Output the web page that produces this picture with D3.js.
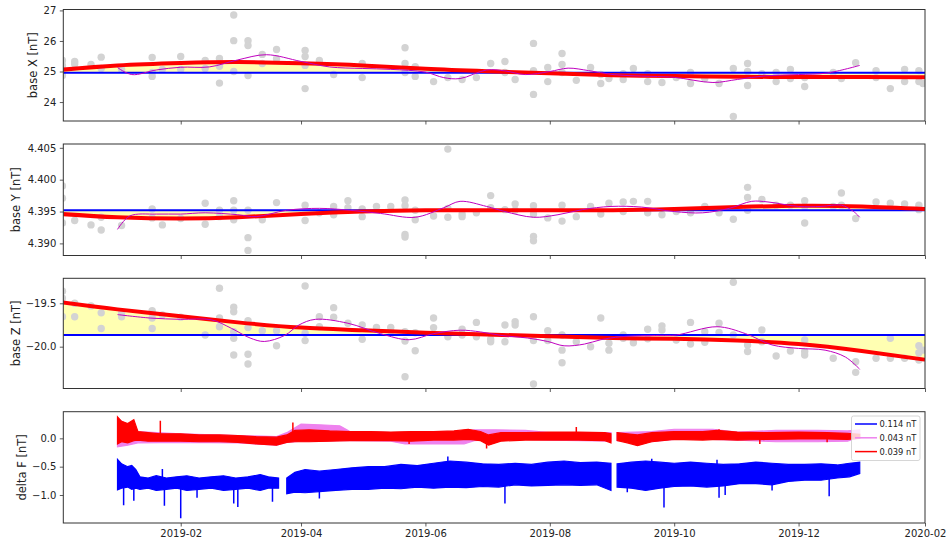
<!DOCTYPE html>
<html>
<head>
<meta charset="utf-8">
<script src="https://cdn.jsdelivr.net/npm/d3@7"></script>
<style>
  body { margin: 0; background: #fff; }
  svg { display: block; font-family: "DejaVu Sans", sans-serif; }
</style>
</head>
<body>
<svg id="chart" width="947" height="545"></svg>
<script>
// ---- data ----
const tickDates = ['2019-02-01', '2019-04-01', '2019-06-01', '2019-08-01',
  '2019-10-01', '2019-12-01', '2020-02-01'];

const baseXBaseline = 24.96;
const baseYBaseline = 4.3952;
const baseZBaseline = -19.866;

const baseXObs = [
  ['2018-12-05', 25.36], ['2018-12-05', 25.2], ['2018-12-05', 24.87],
  ['2018-12-11', 25.33], ['2018-12-11', 25.25], ['2018-12-19', 25.23],
  ['2018-12-24', 25.47], ['2018-12-24', 25.1], ['2019-01-03', 25.07],
  ['2019-01-18', 25.46], ['2019-01-18', 24.97], ['2019-01-18', 24.84],
  ['2019-01-23', 25.07], ['2019-02-01', 25.49], ['2019-02-01', 25.07],
  ['2019-02-13', 25.36], ['2019-02-13', 25.1],
  ['2019-02-20', 25.43], ['2019-02-20', 25.17], ['2019-02-20', 24.62],
  ['2019-02-27', 26.85], ['2019-02-27', 26.01], ['2019-02-27', 25.0],
  ['2019-03-06', 26.01], ['2019-03-06', 25.85], ['2019-03-06', 24.87],
  ['2019-03-13', 25.56], ['2019-03-13', 25.26],
  ['2019-03-20', 25.72], ['2019-03-20', 25.42],
  ['2019-04-03', 25.69], ['2019-04-03', 25.49], ['2019-04-03', 25.2], ['2019-04-03', 24.44],
  ['2019-04-10', 25.36], ['2019-04-17', 24.9],
  ['2019-05-01', 25.26], ['2019-05-01', 24.8],
  ['2019-05-22', 25.78], ['2019-05-22', 25.26], ['2019-05-22', 24.97],
  ['2019-05-27', 25.16], ['2019-05-27', 24.84],
  ['2019-06-05', 24.67], ['2019-06-12', 24.8], ['2019-06-19', 24.74], ['2019-06-26', 24.8],
  ['2019-07-03', 25.26], ['2019-07-10', 25.33], ['2019-07-10', 24.97], ['2019-07-15', 24.74],
  ['2019-07-24', 25.92], ['2019-07-24', 25.03], ['2019-07-24', 24.25],
  ['2019-07-31', 25.13], ['2019-07-31', 24.67],
  ['2019-08-07', 25.59], ['2019-08-07', 25.23], ['2019-08-07', 24.97],
  ['2019-08-14', 24.71], ['2019-08-21', 25.13],
  ['2019-08-26', 24.9], ['2019-08-26', 24.61], ['2019-08-30', 24.77],
  ['2019-09-06', 24.93], ['2019-09-06', 24.74], ['2019-09-11', 25.1],
  ['2019-09-18', 24.93], ['2019-09-18', 24.67], ['2019-09-25', 24.64],
  ['2019-10-02', 24.8], ['2019-10-09', 24.97], ['2019-10-09', 24.61],
  ['2019-10-16', 24.77], ['2019-10-23', 24.61],
  ['2019-10-30', 25.1], ['2019-10-30', 23.53],
  ['2019-11-06', 25.26], ['2019-11-06', 25.0], ['2019-11-06', 24.54],
  ['2019-11-13', 24.93], ['2019-11-20', 24.97], ['2019-11-20', 24.67],
  ['2019-11-27', 25.07], ['2019-11-27', 24.77],
  ['2019-12-04', 24.8], ['2019-12-04', 24.51],
  ['2019-12-18', 24.97], ['2019-12-22', 24.77], ['2019-12-29', 25.29],
  ['2020-01-08', 25.03], ['2020-01-08', 24.8], ['2020-01-15', 24.44],
  ['2020-01-22', 25.07], ['2020-01-22', 24.67],
  ['2020-01-29', 25.03], ['2020-01-29', 24.67], ['2020-01-31', 24.61]
];

const baseXFit = [
  ['2018-12-05', 25.06], ['2019-01-01', 25.2], ['2019-02-01', 25.28],
  ['2019-03-01', 25.31], ['2019-04-01', 25.27], ['2019-05-01', 25.2],
  ['2019-06-01', 25.09], ['2019-07-01', 25.01], ['2019-08-01', 24.94],
  ['2019-09-01', 24.88], ['2019-10-01', 24.85], ['2019-11-01', 24.83],
  ['2019-12-01', 24.82], ['2020-01-01', 24.82], ['2020-02-01', 24.81]
];

const baseXSpline = [
  ['2019-01-01', 25.13], ['2019-01-08', 24.9], ['2019-01-20', 25.05],
  ['2019-02-01', 25.14], ['2019-02-15', 25.15], ['2019-03-01', 25.38],
  ['2019-03-15', 25.55], ['2019-04-01', 25.33], ['2019-04-15', 25.15],
  ['2019-05-01', 25.1], ['2019-05-15', 25.07], ['2019-06-01', 24.98],
  ['2019-06-10', 24.8], ['2019-06-18', 24.77], ['2019-07-01', 25.05],
  ['2019-07-10', 25.02], ['2019-07-20', 24.9], ['2019-08-01', 25.0],
  ['2019-08-10', 25.11], ['2019-08-20', 25.03], ['2019-09-01', 24.9],
  ['2019-09-15', 24.85], ['2019-10-01', 24.81], ['2019-10-20', 24.64],
  ['2019-11-01', 24.74], ['2019-11-15', 24.86], ['2019-12-01', 24.9],
  ['2019-12-15', 24.95], ['2019-12-31', 25.2]
];

const baseYObs = [
  ['2018-12-05', 4.399], ['2018-12-05', 4.3971], ['2018-12-05', 4.3932],
  ['2018-12-11', 4.3936], ['2018-12-19', 4.3929],
  ['2018-12-24', 4.3941], ['2018-12-24', 4.3921], ['2019-01-03', 4.3928],
  ['2019-01-18', 4.3954], ['2019-01-18', 4.394], ['2019-01-23', 4.3929],
  ['2019-02-01', 4.3939], ['2019-02-13', 4.3963], ['2019-02-13', 4.393],
  ['2019-02-20', 4.3952], ['2019-02-20', 4.3942],
  ['2019-02-27', 4.3967], ['2019-02-27', 4.3952], ['2019-02-27', 4.3937],
  ['2019-03-06', 4.3952], ['2019-03-06', 4.3909], ['2019-03-06', 4.3889],
  ['2019-03-13', 4.3937], ['2019-03-20', 4.3964],
  ['2019-04-03', 4.396], ['2019-04-03', 4.3936], ['2019-04-10', 4.3948],
  ['2019-04-17', 4.3958], ['2019-04-17', 4.3945],
  ['2019-04-24', 4.3967], ['2019-04-24', 4.3956],
  ['2019-05-01', 4.3954], ['2019-05-01', 4.3942],
  ['2019-05-08', 4.3958], ['2019-05-15', 4.3958],
  ['2019-05-22', 4.3968], ['2019-05-22', 4.3959], ['2019-05-22', 4.3914], ['2019-05-22', 4.391],
  ['2019-05-27', 4.3952], ['2019-05-27', 4.3937], ['2019-06-05', 4.3943],
  ['2019-06-12', 4.4048], ['2019-06-12', 4.3955], ['2019-06-12', 4.3941],
  ['2019-06-19', 4.3946], ['2019-06-19', 4.3942], ['2019-06-26', 4.3948],
  ['2019-07-03', 4.3975], ['2019-07-03', 4.3956], ['2019-07-10', 4.3953],
  ['2019-07-15', 4.3962], ['2019-07-15', 4.3952],
  ['2019-07-24', 4.3959], ['2019-07-24', 4.3946], ['2019-07-24', 4.3911], ['2019-07-24', 4.3904],
  ['2019-07-31', 4.394], ['2019-08-07', 4.396], ['2019-08-07', 4.3935],
  ['2019-08-14', 4.3942], ['2019-08-21', 4.3958], ['2019-08-26', 4.3946],
  ['2019-08-30', 4.3963], ['2019-09-06', 4.3965], ['2019-09-06', 4.395],
  ['2019-09-11', 4.3966], ['2019-09-18', 4.3966], ['2019-09-18', 4.3948],
  ['2019-09-25', 4.3945], ['2019-10-02', 4.395], ['2019-10-09', 4.3948],
  ['2019-10-16', 4.3958], ['2019-10-23', 4.3948], ['2019-10-30', 4.3938],
  ['2019-11-06', 4.3988], ['2019-11-06', 4.3972], ['2019-11-06', 4.3952],
  ['2019-11-13', 4.3969], ['2019-11-20', 4.396], ['2019-11-27', 4.396],
  ['2019-12-04', 4.3967], ['2019-12-04', 4.3958], ['2019-12-04', 4.3932],
  ['2019-12-18', 4.3958], ['2019-12-22', 4.3979], ['2019-12-22', 4.396],
  ['2019-12-29', 4.3939], ['2020-01-08', 4.3965], ['2020-01-15', 4.3963],
  ['2020-01-22', 4.3962], ['2020-01-29', 4.396], ['2020-01-29', 4.3953]
];

const baseYFit = [
  ['2018-12-05', 4.3946], ['2019-01-01', 4.3941], ['2019-02-01', 4.3939],
  ['2019-03-01', 4.3941], ['2019-04-01', 4.3946], ['2019-05-01', 4.395],
  ['2019-06-01', 4.3952], ['2019-07-01', 4.3952], ['2019-08-01', 4.3952],
  ['2019-09-01', 4.3952], ['2019-10-01', 4.3954], ['2019-11-01', 4.3957],
  ['2019-12-01', 4.3959], ['2020-01-01', 4.3958], ['2020-02-01', 4.3954]
];

const baseYSpline = [
  ['2019-01-01', 4.3922], ['2019-01-07', 4.3943], ['2019-01-20', 4.3946],
  ['2019-02-01', 4.3946], ['2019-02-13', 4.3948], ['2019-03-01', 4.3945],
  ['2019-03-10', 4.3942], ['2019-03-25', 4.3952], ['2019-04-10', 4.3955],
  ['2019-04-25', 4.3952], ['2019-05-10', 4.3947], ['2019-05-27', 4.3941],
  ['2019-06-10', 4.3956], ['2019-06-18', 4.3966], ['2019-07-01', 4.3958],
  ['2019-07-10', 4.395], ['2019-07-24', 4.3941], ['2019-08-05', 4.3945],
  ['2019-08-17', 4.3953], ['2019-08-31', 4.3958], ['2019-09-15', 4.3957],
  ['2019-10-01', 4.395], ['2019-10-15', 4.3948], ['2019-10-28', 4.3955],
  ['2019-11-08', 4.3966], ['2019-11-16', 4.3965], ['2019-12-01', 4.3958],
  ['2019-12-12', 4.3958], ['2019-12-22', 4.396], ['2019-12-28', 4.395],
  ['2019-12-31', 4.3941]
];

const baseZObs = [
  ['2018-12-05', -19.36], ['2018-12-05', -19.44], ['2018-12-05', -19.655],
  ['2018-12-11', -19.5], ['2018-12-11', -19.655], ['2018-12-19', -19.53],
  ['2018-12-24', -19.61], ['2018-12-24', -19.79],
  ['2019-01-03', -19.61], ['2019-01-03', -19.655],
  ['2019-01-18', -19.585], ['2019-01-18', -19.615], ['2019-01-18', -19.67], ['2019-01-18', -19.79],
  ['2019-01-23', -19.635], ['2019-02-01', -19.66], ['2019-02-13', -19.866],
  ['2019-02-20', -19.327], ['2019-02-20', -19.67], ['2019-02-20', -19.77],
  ['2019-02-27', -19.546], ['2019-02-27', -19.597], ['2019-02-27', -19.827],
  ['2019-02-27', -19.904], ['2019-02-27', -20.096],
  ['2019-03-06', -19.7], ['2019-03-06', -19.78], ['2019-03-06', -20.088], ['2019-03-06', -20.2],
  ['2019-03-13', -19.816], ['2019-03-20', -19.816], ['2019-03-20', -19.99],
  ['2019-04-03', -19.3], ['2019-04-03', -19.846], ['2019-04-03', -19.93],
  ['2019-04-10', -19.655], ['2019-04-10', -19.77],
  ['2019-04-17', -19.55], ['2019-04-17', -19.66], ['2019-04-24', -19.73],
  ['2019-05-01', -19.75], ['2019-05-01', -19.915], ['2019-05-08', -19.777],
  ['2019-05-15', -19.777], ['2019-05-15', -19.82],
  ['2019-05-22', -19.827], ['2019-05-22', -19.935], ['2019-05-22', -20.347],
  ['2019-05-27', -19.84], ['2019-05-27', -20.047],
  ['2019-06-05', -19.67], ['2019-06-05', -19.78], ['2019-06-12', -19.885],
  ['2019-06-19', -19.8], ['2019-06-19', -19.866],
  ['2019-06-26', -19.72], ['2019-06-26', -19.885],
  ['2019-07-03', -19.915], ['2019-07-03', -19.943],
  ['2019-07-10', -19.75], ['2019-07-10', -19.943],
  ['2019-07-15', -19.712], ['2019-07-15', -19.75],
  ['2019-07-24', -19.655], ['2019-07-24', -19.93], ['2019-07-24', -20.43],
  ['2019-07-31', -19.816], ['2019-07-31', -19.93],
  ['2019-08-07', -19.866], ['2019-08-07', -20.04], ['2019-08-07', -20.185],
  ['2019-08-14', -19.943], ['2019-08-21', -20.0], ['2019-08-26', -19.67],
  ['2019-08-30', -19.96], ['2019-08-30', -20.04],
  ['2019-09-06', -19.866], ['2019-09-06', -19.904], ['2019-09-11', -19.955],
  ['2019-09-18', -19.8], ['2019-09-18', -19.91],
  ['2019-09-25', -19.76], ['2019-09-25', -19.808], ['2019-10-02', -19.923],
  ['2019-10-09', -19.72], ['2019-10-09', -19.97],
  ['2019-10-16', -19.827], ['2019-10-16', -19.95],
  ['2019-10-23', -19.73], ['2019-10-23', -19.835],
  ['2019-10-30', -19.258], ['2019-10-30', -19.866],
  ['2019-11-06', -19.98], ['2019-11-06', -20.056],
  ['2019-11-13', -19.808], ['2019-11-13', -19.943],
  ['2019-11-20', -20.108], ['2019-11-27', -20.05],
  ['2019-12-04', -19.923], ['2019-12-04', -20.056], ['2019-12-04', -20.096],
  ['2019-12-18', -20.134], ['2019-12-29', -20.173], ['2019-12-29', -20.296],
  ['2020-01-08', -20.134], ['2020-01-15', -19.904], ['2020-01-15', -20.134],
  ['2020-01-22', -20.134],
  ['2020-01-29', -19.99], ['2020-01-29', -20.07], ['2020-01-29', -20.154],
  ['2020-01-31', -20.04]
];

const baseZFit = [
  ['2018-12-05', -19.49], ['2019-01-01', -19.57], ['2019-02-01', -19.65],
  ['2019-03-01', -19.72], ['2019-04-01', -19.78], ['2019-05-01', -19.81],
  ['2019-06-01', -19.84], ['2019-07-01', -19.86], ['2019-08-01', -19.88],
  ['2019-09-01', -19.9], ['2019-10-01', -19.91], ['2019-11-01', -19.93],
  ['2019-12-01', -19.97], ['2020-01-01', -20.05], ['2020-02-01', -20.15]
];

const baseZSpline = [
  ['2019-01-01', -19.63], ['2019-01-17', -19.67], ['2019-02-01', -19.685],
  ['2019-02-16', -19.69], ['2019-02-26', -19.79], ['2019-03-07', -19.9],
  ['2019-03-14', -19.94], ['2019-03-24', -19.87], ['2019-03-31', -19.75],
  ['2019-04-08', -19.685], ['2019-04-24', -19.73], ['2019-05-10', -19.85],
  ['2019-05-24', -19.92], ['2019-06-05', -19.85], ['2019-06-18', -19.81],
  ['2019-06-28', -19.83], ['2019-07-08', -19.87], ['2019-07-21', -19.9],
  ['2019-07-31', -19.94], ['2019-08-08', -19.99], ['2019-08-18', -19.97],
  ['2019-08-26', -19.92], ['2019-09-05', -19.885], ['2019-09-24', -19.87],
  ['2019-10-02', -19.866], ['2019-10-22', -19.77], ['2019-11-05', -19.85],
  ['2019-11-18', -19.98], ['2019-12-01', -20.02], ['2019-12-14', -20.04],
  ['2019-12-24', -20.12], ['2019-12-31', -20.26]
];

// delta F: [date, low, high] of the dense minute series, null = data gap
const deltaFBlue = [
  ['2019-01-01', -0.91, -0.37], ['2019-01-03', -0.88, -0.45], ['2019-01-06', -0.86, -0.5],
  ['2019-01-08', -0.9, -0.48], ['2019-01-10', -0.88, -0.55], ['2019-01-12', -0.9, -0.68],
  ['2019-01-16', -0.88, -0.7], ['2019-01-20', -0.92, -0.66], ['2019-01-25', -0.9, -0.7],
  ['2019-01-30', -0.88, -0.68], ['2019-02-04', -0.92, -0.66], ['2019-02-10', -0.9, -0.7],
  ['2019-02-16', -0.88, -0.68], ['2019-02-22', -0.92, -0.66], ['2019-02-28', -0.9, -0.7],
  ['2019-03-06', -0.88, -0.68], ['2019-03-12', -0.92, -0.64], ['2019-03-16', -0.88, -0.68],
  ['2019-03-21', -0.88, -0.7], ['2019-03-22', null, null],
  ['2019-03-25', -0.98, -0.7], ['2019-03-29', -0.95, -0.6], ['2019-04-03', -0.96, -0.55],
  ['2019-04-10', -0.94, -0.58], ['2019-04-18', -0.92, -0.55], ['2019-04-26', -0.9, -0.52],
  ['2019-05-04', -0.9, -0.5], ['2019-05-12', -0.88, -0.5], ['2019-05-20', -0.89, -0.46],
  ['2019-05-28', -0.86, -0.48], ['2019-06-05', -0.88, -0.44], ['2019-06-13', -0.86, -0.4],
  ['2019-06-21', -0.87, -0.42], ['2019-06-29', -0.85, -0.45], ['2019-07-07', -0.86, -0.46],
  ['2019-07-15', -0.82, -0.44], ['2019-07-23', -0.84, -0.46], ['2019-07-31', -0.83, -0.42],
  ['2019-08-08', -0.82, -0.4], ['2019-08-16', -0.83, -0.43], ['2019-08-24', -0.82, -0.42],
  ['2019-08-31', -0.92, -0.44], ['2019-09-01', null, null],
  ['2019-09-03', -0.86, -0.45], ['2019-09-10', -0.88, -0.42], ['2019-09-17', -0.92, -0.4],
  ['2019-09-24', -0.88, -0.42], ['2019-10-01', -0.85, -0.44], ['2019-10-09', -0.84, -0.42],
  ['2019-10-17', -0.86, -0.44], ['2019-10-25', -0.84, -0.46], ['2019-11-02', -0.8, -0.45],
  ['2019-11-10', -0.8, -0.42], ['2019-11-18', -0.82, -0.44], ['2019-11-26', -0.76, -0.46],
  ['2019-12-04', -0.74, -0.46], ['2019-12-12', -0.74, -0.45], ['2019-12-20', -0.7, -0.47],
  ['2019-12-26', -0.68, -0.44], ['2019-12-31', -0.62, -0.42]
];

const deltaFViolet = [
  ['2019-01-01', -0.15, 0.35], ['2019-01-06', -0.12, 0.24], ['2019-01-11', -0.08, 0.12],
  ['2019-02-01', -0.07, 0.08], ['2019-03-01', -0.08, 0.05], ['2019-03-20', -0.12, 0.03],
  ['2019-03-25', -0.07, 0.1], ['2019-04-01', -0.05, 0.25], ['2019-04-10', -0.05, 0.24],
  ['2019-04-20', -0.04, 0.22], ['2019-04-25', -0.04, 0.12], ['2019-05-15', -0.05, 0.1],
  ['2019-05-22', -0.1, 0.1], ['2019-06-20', -0.1, 0.12], ['2019-06-25', -0.04, 0.15],
  ['2019-07-05', -0.02, 0.15], ['2019-07-20', -0.02, 0.14], ['2019-08-01', -0.03, 0.1],
  ['2019-08-31', -0.05, 0.1], ['2019-09-01', null, null],
  ['2019-09-03', -0.04, 0.1], ['2019-09-20', -0.06, 0.12], ['2019-10-01', -0.02, 0.16],
  ['2019-10-20', -0.02, 0.16], ['2019-11-01', -0.03, 0.11], ['2019-11-20', -0.06, 0.14],
  ['2019-12-10', -0.06, 0.14], ['2019-12-25', -0.05, 0.13], ['2019-12-31', 0.02, 0.15]
];

const deltaFRed = [
  ['2019-01-01', -0.1, 0.38], ['2019-01-03', -0.06, 0.3], ['2019-01-06', -0.08, 0.26],
  ['2019-01-09', -0.04, 0.33], ['2019-01-11', -0.03, 0.12], ['2019-01-16', -0.05, 0.1],
  ['2019-01-22', -0.05, 0.08], ['2019-02-01', -0.05, 0.08], ['2019-02-10', -0.06, 0.06],
  ['2019-02-20', -0.06, 0.06], ['2019-03-01', -0.07, 0.05], ['2019-03-10', -0.1, 0.03],
  ['2019-03-20', -0.12, 0.02], ['2019-03-25', -0.07, 0.06], ['2019-03-29', -0.06, 0.14],
  ['2019-04-05', -0.06, 0.15], ['2019-04-15', -0.05, 0.13], ['2019-04-25', -0.04, 0.12],
  ['2019-05-05', -0.04, 0.12], ['2019-05-15', -0.04, 0.11], ['2019-05-25', -0.05, 0.12],
  ['2019-06-05', -0.03, 0.12], ['2019-06-15', -0.03, 0.13], ['2019-06-22', -0.02, 0.16],
  ['2019-06-28', -0.04, 0.12], ['2019-07-02', -0.12, 0.06], ['2019-07-08', -0.05, 0.1],
  ['2019-07-20', -0.03, 0.1], ['2019-08-01', -0.03, 0.11], ['2019-08-15', -0.03, 0.11],
  ['2019-08-28', -0.04, 0.1], ['2019-08-31', -0.08, 0.08], ['2019-09-01', null, null],
  ['2019-09-03', -0.04, 0.1], ['2019-09-08', -0.08, 0.08], ['2019-09-13', -0.13, 0.06],
  ['2019-09-20', -0.06, 0.1], ['2019-10-01', -0.02, 0.12], ['2019-10-15', -0.03, 0.12],
  ['2019-10-22', -0.02, 0.14], ['2019-11-01', -0.03, 0.11], ['2019-11-15', -0.02, 0.1],
  ['2019-12-01', -0.01, 0.11], ['2019-12-15', -0.01, 0.1], ['2019-12-25', -0.02, 0.09],
  ['2019-12-31', 0.0, 0.07]
];

const deltaFBlueSpikes = [
  ['2019-01-04', -1.18], ['2019-01-09', -1.1], ['2019-01-23', -0.54], ['2019-01-24', -1.19],
  ['2019-02-01', -1.41], ['2019-02-09', -1.05], ['2019-02-27', -1.15], ['2019-03-01', -1.21],
  ['2019-03-18', -1.12], ['2019-04-10', -1.06], ['2019-06-12', -0.32], ['2019-07-10', -1.15],
  ['2019-09-08', -0.95], ['2019-09-20', -0.36], ['2019-09-26', -1.22], ['2019-10-22', -0.38],
  ['2019-10-23', -1.05], ['2019-10-26', -1.0], ['2019-11-18', -0.92], ['2019-12-16', -1.02]
];

const deltaFRedSpikes = [
  ['2019-01-22', 0.31], ['2019-03-28', 0.28], ['2019-05-24', -0.1], ['2019-07-01', -0.18],
  ['2019-08-14', 0.2], ['2019-10-23', 0.16], ['2019-11-12', -0.1], ['2019-12-15', -0.07]
];

const legendLabels = ['0.114 nT', '0.043 nT', '0.039 nT'];

// ---- layout ----
(() => {
  const svg = d3.select('#chart');
  const left = 63.3;
  const right = 925;
  const parseDate = d3.utcParse('%Y-%m-%d');
  const fmtMinus = d3.format('.1f');

  const x = d3.scaleUtc()
    .domain([new Date(Date.UTC(2018, 11, 5, 10)), parseDate('2020-02-01')])
    .range([left, right]);

  const toSeries = rows => rows.map(([d, v]) => ({ date: parseDate(d), value: v }));
  const toBand = rows => rows.map(([d, lo, hi]) => ({ date: parseDate(d), lo, hi }));

  const panels = [
    {
      top: 9.5, bottom: 121, domain: [23.38, 27.03], ticks: [24, 25, 26, 27],
      fmt: d3.format('d'), label: 'base X [nT]', labelX: 33
    },
    {
      top: 144, bottom: 255.5, domain: [4.3881, 4.4056],
      ticks: [4.390, 4.395, 4.400, 4.405],
      fmt: d3.format('.3f'), label: 'base Y [nT]', labelX: 16
    },
    {
      top: 278.3, bottom: 388.5, domain: [-20.482, -19.212], ticks: [-20.0, -19.5],
      fmt: fmtMinus, label: 'base Z [nT]', labelX: 16
    },
    {
      top: 411.7, bottom: 523, domain: [-1.494, 0.47], ticks: [-1.0, -0.5, 0.0],
      fmt: fmtMinus, label: 'delta F [nT]', labelX: 22
    }
  ];

  function frame(p, i, withLabels) {
    const y = d3.scaleLinear().domain(p.domain).range([p.bottom, p.top]);
    const g = svg.append('g');

    svg.append('clipPath').attr('id', `clip-${i}`)
      .append('rect')
      .attr('x', left).attr('y', p.top)
      .attr('width', right - left).attr('height', p.bottom - p.top);

    const plot = g.append('g').attr('clip-path', `url(#clip-${i})`);

    const yAxis = g.append('g')
      .attr('transform', `translate(${left},0)`)
      .call(d3.axisLeft(y).tickValues(p.ticks).tickFormat(p.fmt)
        .tickSize(3.5).tickPadding(3.5));
    const xAxis = g.append('g')
      .attr('transform', `translate(0,${p.bottom})`)
      .call(d3.axisBottom(x).tickValues(tickDates.map(parseDate))
        .tickFormat(withLabels ? d3.utcFormat('%Y-%m') : '')
        .tickSize(3.5).tickPadding(3.5));
    [yAxis, xAxis].forEach((a) => {
      a.select('.domain').remove();
      a.selectAll('line').attr('stroke', '#333').attr('stroke-width', 0.8);
      a.selectAll('text').attr('fill', '#222').style('font-size', '10px')
        .style('font-family', '"DejaVu Sans", sans-serif');
    });

    g.append('text')
      .attr('transform', `translate(${p.labelX},${(p.top + p.bottom) / 2}) rotate(-90)`)
      .attr('text-anchor', 'middle')
      .attr('dy', '0.35em')
      .attr('fill', '#222')
      .style('font-size', '11.5px')
      .text(p.label);

    return { g, plot, y };
  }

  function drawBase(p, i, obs, fit, spline, baseline) {
    const { g, plot, y } = frame(p, i, false);
    const fitData = toSeries(fit);

    plot.append('path')
      .datum(fitData)
      .attr('fill', '#ffffb2')
      .attr('d', d3.area().curve(d3.curveNatural)
        .x(d => x(d.date)).y0(y(baseline)).y1(d => y(d.value)));

    plot.selectAll('circle')
      .data(toSeries(obs))
      .enter().append('circle')
      .attr('cx', d => x(d.date))
      .attr('cy', d => y(d.value))
      .attr('r', 3.7)
      .attr('fill', '#d3d3d3');

    plot.append('line')
      .attr('x1', left).attr('x2', right)
      .attr('y1', y(baseline)).attr('y2', y(baseline))
      .attr('stroke', '#0000ff').attr('stroke-width', 2);

    plot.append('path')
      .datum(fitData)
      .attr('fill', 'none')
      .attr('stroke', '#ff0000')
      .attr('stroke-width', 4)
      .attr('d', d3.line().curve(d3.curveNatural)
        .x(d => x(d.date)).y(d => y(d.value)));

    plot.append('path')
      .datum(toSeries(spline))
      .attr('fill', 'none')
      .attr('stroke', '#bf00bf')
      .attr('stroke-width', 1)
      .attr('d', d3.line().curve(d3.curveCatmullRom)
        .x(d => x(d.date)).y(d => y(d.value)));

    g.append('rect')
      .attr('x', left).attr('y', p.top)
      .attr('width', right - left).attr('height', p.bottom - p.top)
      .attr('fill', 'none').attr('stroke', '#333').attr('stroke-width', 1);
  }

  drawBase(panels[0], 0, baseXObs, baseXFit, baseXSpline, baseXBaseline);
  drawBase(panels[1], 1, baseYObs, baseYFit, baseYSpline, baseYBaseline);
  drawBase(panels[2], 2, baseZObs, baseZFit, baseZSpline, baseZBaseline);

  // delta F panel
  const p = panels[3];
  const { g, plot, y } = frame(p, 3, true);

  function band(rows, color) {
    const data = toBand(rows);
    plot.append('path')
      .datum(data)
      .attr('fill', color)
      .attr('stroke', color)
      .attr('stroke-width', 1.2)
      .attr('d', d3.area()
        .defined(d => d.lo !== null)
        .x(d => x(d.date)).y0(d => y(d.lo)).y1(d => y(d.hi)));
    return data;
  }

  function spikes(data, rows, color) {
    const bis = d3.bisector(d => d.date).right;
    const valid = data.filter(d => d.lo !== null);
    toSeries(rows).forEach((s) => {
      const row = valid[Math.max(0, bis(valid, s.date) - 1)];
      plot.append('line')
        .attr('x1', x(s.date)).attr('x2', x(s.date))
        .attr('y1', y((row.lo + row.hi) / 2)).attr('y2', y(s.value))
        .attr('stroke', color).attr('stroke-width', 1.5);
    });
  }

  const blue = band(deltaFBlue, '#0000ff');
  spikes(blue, deltaFBlueSpikes, '#0000ff');
  band(deltaFViolet, '#ee82ee');
  const red = band(deltaFRed, '#ff0000');
  spikes(red, deltaFRedSpikes, '#ff0000');

  g.append('rect')
    .attr('x', left).attr('y', p.top)
    .attr('width', right - left).attr('height', p.bottom - p.top)
    .attr('fill', 'none').attr('stroke', '#333').attr('stroke-width', 1);

  // legend
  const legendColors = ['#0000ff', '#ee82ee', '#ff0000'];
  const legend = g.append('g').attr('transform', 'translate(851.5,416)');
  legend.append('rect')
    .attr('width', 68.5).attr('height', 44.5).attr('rx', 2)
    .attr('fill', '#fff').attr('fill-opacity', 0.8)
    .attr('stroke', '#ccc').attr('stroke-width', 0.8);
  legendLabels.forEach((label, k) => {
    const ly = 8 + k * 13.8;
    legend.append('line')
      .attr('x1', 3.5).attr('x2', 25.5).attr('y1', ly).attr('y2', ly)
      .attr('stroke', legendColors[k]).attr('stroke-width', 1.5);
    legend.append('text')
      .attr('x', 28).attr('y', ly).attr('dy', '0.35em')
      .attr('fill', '#222')
      .style('font-size', '8.3px')
      .text(label);
  });
})();
</script>
</body>
</html>
